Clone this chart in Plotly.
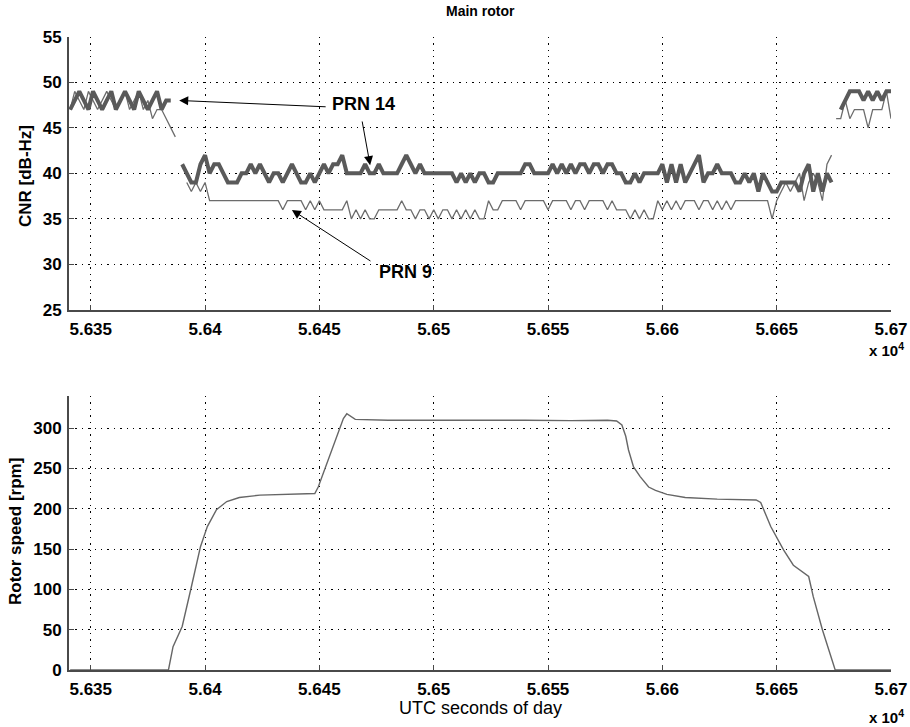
import plotly.graph_objects as go

# ---------------- data ----------------
# CNR samples every 2 s, one list per continuous tracking segment
PRN14_SEG_STARTS = [56341, 56390, 56678]
PRN14_SEGMENTS = [
    [47, 48, 49, 48, 47, 49, 48, 47, 48, 49, 47, 48, 49, 48, 47, 49, 48, 47, 48, 49, 47, 48, 48],
    [41, 40, 39, 39, 41, 42, 40, 41, 41, 40, 39, 39, 39, 40, 40, 41, 40, 41, 40, 39,
     40, 40, 39, 40, 41, 40, 39, 39, 40, 39, 40, 41, 40, 41, 41, 42, 40, 40, 40, 40,
     41, 40, 40, 41, 40, 40, 40, 40, 41, 42, 41, 40, 41, 40, 40, 40, 40, 40, 40, 40,
     39, 40, 39, 40, 39, 40, 40, 39, 39, 40, 40, 40, 40, 40, 40, 41, 41, 40, 40, 40,
     40, 41, 40, 41, 40, 41, 40, 41, 41, 40, 41, 41, 40, 41, 41, 40, 40, 39, 39, 40,
     39, 40, 40, 40, 40, 41, 39, 41, 39, 41, 39, 40, 41, 42, 39, 40, 40, 41, 40, 40,
     40, 39, 39, 40, 39, 40, 38, 40, 39, 38, 38, 39, 39, 39, 39, 38, 40, 41, 38, 40,
     38, 40, 39],
    [47, 48, 49, 49, 49, 48, 49, 48, 49, 48, 49, 49],
]

PRN9_SEG_STARTS = [56341, 56392, 56676]
PRN9_SEGMENTS = [
    [47, 49, 48, 47, 49, 48, 47, 48, 49, 48, 47, 48, 49, 47, 48, 49, 47, 48, 46, 47, 47, 46, 45, 44],
    [39, 38, 39, 38, 39, 37, 37, 37, 37, 37, 37, 37, 37, 37, 37, 37, 37, 37, 37, 37,
     37, 36, 37, 37, 37, 37, 36, 37, 36, 37, 36, 36, 36, 36, 36, 37, 35, 36, 35, 36,
     35, 35, 36, 36, 36, 36, 36, 37, 36, 36, 35, 36, 36, 35, 36, 35, 36, 36, 35, 36,
     35, 36, 35, 36, 35, 35, 37, 36, 36, 37, 37, 37, 37, 36, 37, 37, 37, 37, 37, 36,
     37, 37, 37, 37, 36, 37, 37, 36, 37, 37, 37, 37, 36, 37, 36, 36, 36, 35, 36, 35,
     36, 35, 35, 37, 36, 37, 36, 37, 36, 37, 37, 37, 36, 37, 37, 36, 37, 36, 37, 36,
     37, 37, 37, 37, 37, 37, 37, 37, 35, 37, 38, 39, 38, 39, 40, 37, 39, 40, 39, 37,
     41, 42],
    [46, 46, 48, 46, 47, 47, 47, 45, 47, 47, 47, 49, 46],
]
CNR_STEP = 2

# Main rotor speed
ROTOR_T = [56341, 56384, 56386, 56390, 56394, 56398, 56401, 56405, 56409.5, 56415,
           56424, 56441, 56448, 56449.5, 56452.5, 56456, 56459, 56460.5, 56462, 56465.7,
           56480, 56500, 56520, 56540, 56560, 56576, 56580, 56582.3, 56584, 56585.2,
           56587.4, 56590.3, 56594, 56597, 56602, 56610, 56624, 56641, 56643, 56647.4,
           56653, 56657.3, 56664, 56666, 56670, 56675.6, 56700]
ROTOR_RPM = [0, 0, 29, 54, 103, 153, 178, 199, 209, 214,
             217, 218, 219, 227, 250, 277, 302, 312, 318, 311,
             310, 310, 310.5, 310, 309.5, 310, 309, 304, 290, 273,
             252, 240, 227, 223, 218, 214, 212, 211, 208, 178,
             149, 130, 116, 91, 50, 0, 0]

X_TICKS = [56350, 56400, 56450, 56500, 56550, 56600, 56650, 56700]
X_TICK_TEXT = ["5.635", "5.64", "5.645", "5.65", "5.655", "5.66", "5.665", "5.67"]
X_RANGE = [56340.5, 56700]


def join_segments(starts, segments, step):
    xs, ys = [], []
    for t0, vals in zip(starts, segments):
        if xs:
            xs.append(None)
            ys.append(None)
        xs.extend(t0 + step * i for i in range(len(vals)))
        ys.extend(vals)
    return xs, ys


FONT = "Liberation Sans, Arial, Helvetica, sans-serif"
W, H = 910, 727

prn14_x, prn14_y = join_segments(PRN14_SEG_STARTS, PRN14_SEGMENTS, CNR_STEP)
prn9_x, prn9_y = join_segments(PRN9_SEG_STARTS, PRN9_SEGMENTS, CNR_STEP)

fig = go.Figure()
fig.add_trace(go.Scatter(x=prn9_x, y=prn9_y, mode="lines", xaxis="x", yaxis="y",
                         line=dict(color="#6c6c6c", width=1.3), connectgaps=False,
                         showlegend=False))
fig.add_trace(go.Scatter(x=prn14_x, y=prn14_y, mode="lines", xaxis="x", yaxis="y",
                         line=dict(color="#5a5a5a", width=4), connectgaps=False,
                         showlegend=False))
fig.add_trace(go.Scatter(x=ROTOR_T, y=ROTOR_RPM, mode="lines", xaxis="x2", yaxis="y2",
                         line=dict(color="#666666", width=1.4), showlegend=False))

axis_common = dict(
    showline=True, linecolor="#4a4a4a", linewidth=2,
    ticks="inside", ticklen=5, tickcolor="#4a4a4a", tickwidth=1,
    showgrid=True, gridcolor="#000000", gridwidth=1.4, griddash="1.4px,5px",
    zeroline=False, mirror=False, automargin=False,
    tickfont=dict(family=FONT, size=17, color="#000000", weight="bold"),
)

top_dom = [(H - 310) / H, (H - 36.7) / H]
bot_dom = [(H - 670) / H, (H - 396) / H]
x_dom = [69 / W, 891 / W]

fig.update_layout(
    width=W, height=H,
    margin=dict(l=0, r=0, t=0, b=0, autoexpand=False),
    paper_bgcolor="white", plot_bgcolor="white",
    xaxis=dict(axis_common, domain=x_dom, range=X_RANGE, anchor="y",
               tickvals=X_TICKS, ticktext=X_TICK_TEXT, ticklabelstandoff=3),
    yaxis=dict(axis_common, domain=top_dom, range=[25, 55], anchor="x",
               tickvals=[25, 30, 35, 40, 45, 50, 55], ticklabelstandoff=2),
    xaxis2=dict(axis_common, domain=x_dom, range=X_RANGE, anchor="y2",
                tickvals=X_TICKS, ticktext=X_TICK_TEXT, ticklabelstandoff=3),
    yaxis2=dict(axis_common, domain=bot_dom, range=[0, 340], anchor="x2",
                tickvals=[0, 50, 100, 150, 200, 250, 300], ticklabelstandoff=2),
)


def paper_text(text, px, py, size, angle=0, xanchor="center"):
    return dict(text=text, x=px / W, y=(H - py) / H, xref="paper", yref="paper",
                xanchor=xanchor, yanchor="middle", textangle=angle, showarrow=False,
                font=dict(family=FONT, size=size, color="#000"))


annotations = [
    paper_text("<b>Main rotor</b>", 480, 11, 14),
    paper_text("<b>CNR [dB-Hz]</b>", 25, 176, 17, angle=-90),
    paper_text("<b>Rotor speed [rpm]</b>", 15, 532, 17, angle=-90),
    paper_text("UTC seconds of day", 480, 708, 18),
    paper_text("<b>x 10<sup>4</sup></b>", 906, 349, 15, xanchor="right"),
    paper_text("<b>x 10<sup>4</sup></b>", 906, 716, 15, xanchor="right"),
    # labels for the two satellites
    dict(text="<b>PRN 14</b>", x=56469.5, y=47.56, xref="x", yref="y", showarrow=False,
         font=dict(family=FONT, size=18, color="#000")),
    dict(text="<b>PRN 9</b>", x=56487.5, y=29.2, xref="x", yref="y", showarrow=False,
         font=dict(family=FONT, size=18, color="#000")),
]

arrow_style = dict(text="", showarrow=True, arrowhead=2, arrowsize=1.8, arrowwidth=1,
                   arrowcolor="#000", xref="x", yref="y", axref="x", ayref="y")
annotations += [
    dict(arrow_style, x=56388.7, y=48.0, ax=56453.4, ay=47.3),
    dict(arrow_style, x=56472.2, y=40.9, ax=56468.6, ay=45.86),
    dict(arrow_style, x=56438.0, y=35.98, ax=56473.0, ay=30.27),
]
fig.update_layout(annotations=annotations)

fig.write_html("out.html")
